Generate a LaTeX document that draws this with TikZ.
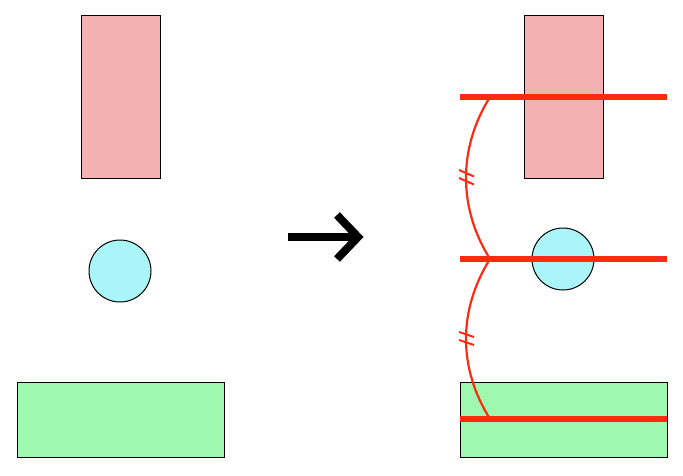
\documentclass[tikz,border=0pt]{standalone}
\usepackage{tikz}
\usetikzlibrary{positioning, calc}
\definecolor{blockpink}{HTML}{F4B1B1}
\definecolor{blockcyan}{HTML}{AAF5F8}
\definecolor{blockgreen}{HTML}{9FF8B0}
\definecolor{guidered}{HTML}{FF2A10}

\begin{document}
\begin{tikzpicture}[
    x=1pt, y=-1pt,
    tallbox/.style={rectangle, draw=black, fill=blockpink, line width=1pt, minimum width=79pt, minimum height=163pt, inner sep=0pt},
    roundbox/.style={circle, draw=black, fill=blockcyan, line width=1pt, minimum size=62pt, inner sep=0pt},
    widebox/.style={rectangle, draw=black, fill=blockgreen, line width=1pt, minimum width=207pt, minimum height=75pt, inner sep=0pt},
    guide/.style={guidered, line width=6pt},
    spacing/.style={guidered, line width=2.2pt},
    tick/.style={guidered, line width=2pt},
    bigarrow/.style={black, line width=8pt, line join=miter}
]
\useasboundingbox (0,0) rectangle (683,475);

% Before
\node[tallbox] (tallL) at (120.5,96.5) {};
\node[roundbox] (roundL) at (120,271) {};
\node[widebox] (wideL) at (120.5,419.5) {};

% After
\node[tallbox] (tallR) at (563.5,96.5) {};
\node[roundbox] (roundR) at (563,259) {};
\node[widebox] (wideR) at (563.5,419.5) {};

% Arrow
\coordinate (arrowstart) at (288,237);
\coordinate (arrowend) at (358,237);
\draw[bigarrow] (arrowstart) -- (arrowend);
\draw[bigarrow] ($(arrowend)+(-21,-22)$) -- (arrowend) -- ($(arrowend)+(-21,22)$);

% Guides
\coordinate (topL) at (460,97);   \coordinate (topR) at (667,97);
\coordinate (midL) at (460,259);  \coordinate (midR) at (667,259);
\coordinate (botL) at (460,419);  \coordinate (botR) at (667,419);
\coordinate (topK) at (490,97);
\coordinate (midK) at (490,259);
\coordinate (botK) at (490,419);
\draw[guide] (topL) -- (topR);
\draw[guide] (midL) -- (midR);
\draw[guide] (botL) -- (botR);

% Equal spacing
\draw[spacing] (topK) .. controls (458,148) and (458,208) .. (midK);
\draw[spacing] (midK) .. controls (458,310) and (458,368) .. (botK);
\foreach \y in {170, 178} {
  \draw[tick] (459,\y) -- (474,\y+6.5);
}
\foreach \y in {332, 340} {
  \draw[tick] (459,\y) -- (474,\y+5);
}
\end{tikzpicture}
\end{document}
